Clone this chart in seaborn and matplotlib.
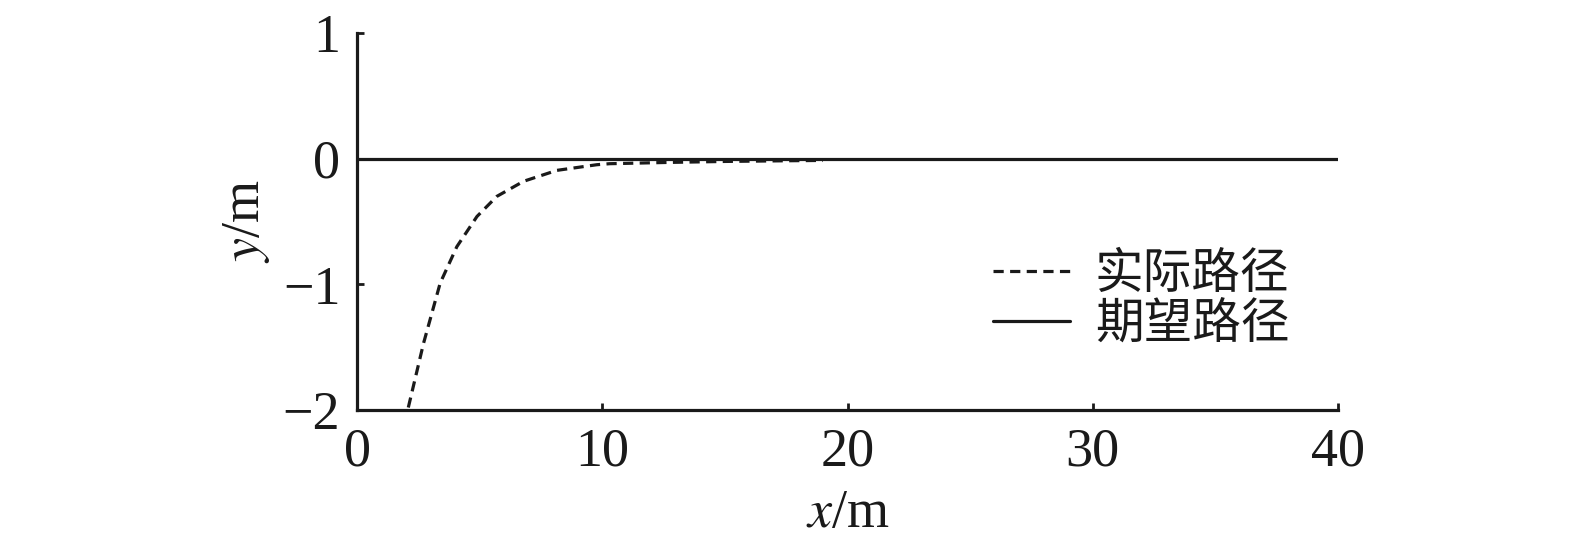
import matplotlib
matplotlib.use("Agg")
import matplotlib.pyplot as plt
import pandas as pd
import seaborn as sns

actual_x = [2.09, 2.71, 3.39, 4.07, 4.89, 5.70, 6.79, 8.15, 9.78, 10.3, 12.65, 15.0, 17.8, 19.0]
actual_y = [-1.98, -1.47, -0.99, -0.70, -0.46, -0.30, -0.18, -0.093, -0.048, -0.04, -0.03, -0.022, -0.016, -0.014]

# desired path (solid)
desired_x = [0, 40]
desired_y = [0, 0]

labels = ["实际路径", "期望路径"]
x_ticks = [0, 10, 20, 30, 40]
y_ticks = [-2, -1, 0, 1]

sns.set_theme(style="ticks")
plt.rcParams["font.family"] = ["Liberation Serif", "Noto Sans CJK SC"]
plt.rcParams["mathtext.fontset"] = "stix"
plt.rcParams["axes.unicode_minus"] = True

actual = pd.DataFrame({"x": actual_x, "y": actual_y})
desired = pd.DataFrame({"x": desired_x, "y": desired_y})

fig, ax = plt.subplots(figsize=(15.75, 5.5), dpi=100)
fig.subplots_adjust(left=0.2267, right=0.8495, bottom=0.2545, top=0.94)

sns.lineplot(data=actual, x="x", y="y", ax=ax, color="#1a1a1a", lw=2.3,
             dashes=False, label=labels[0], sort=False)
ax.lines[-1].set_dashes((3.2, 2.0))
sns.lineplot(data=desired, x="x", y="y", ax=ax, color="#1a1a1a", lw=2.3, label=labels[1])

ax.set_xlim(0, 40)
ax.set_ylim(-2, 1)
ax.set_xticks(x_ticks)
ax.set_yticks(y_ticks)
ax.tick_params(direction="in", length=5, width=2, labelsize=39, pad=12, colors="#1a1a1a")
ax.tick_params(axis="y", pad=12)

for side in ["top", "right"]:
    ax.spines[side].set_visible(False)
for side in ["left", "bottom"]:
    ax.spines[side].set_linewidth(2.3)
    ax.spines[side].set_color("#1a1a1a")

ax.set_xlabel("$x$/m", fontsize=39, labelpad=8, color="#1a1a1a")
ax.set_ylabel("$y$/m", fontsize=39, labelpad=8, color="#1a1a1a")

leg = ax.legend(loc="upper left", bbox_to_anchor=(0.648, 0.425), frameon=False,
                borderaxespad=0, borderpad=0, handlelength=1.6, handletextpad=0.5,
                labelspacing=0.0, prop={"family": ["Noto Sans CJK SC"], "size": 35})
for t in leg.get_texts():
    t.set_color("#1a1a1a")

fig.savefig("out.png", dpi=100)
